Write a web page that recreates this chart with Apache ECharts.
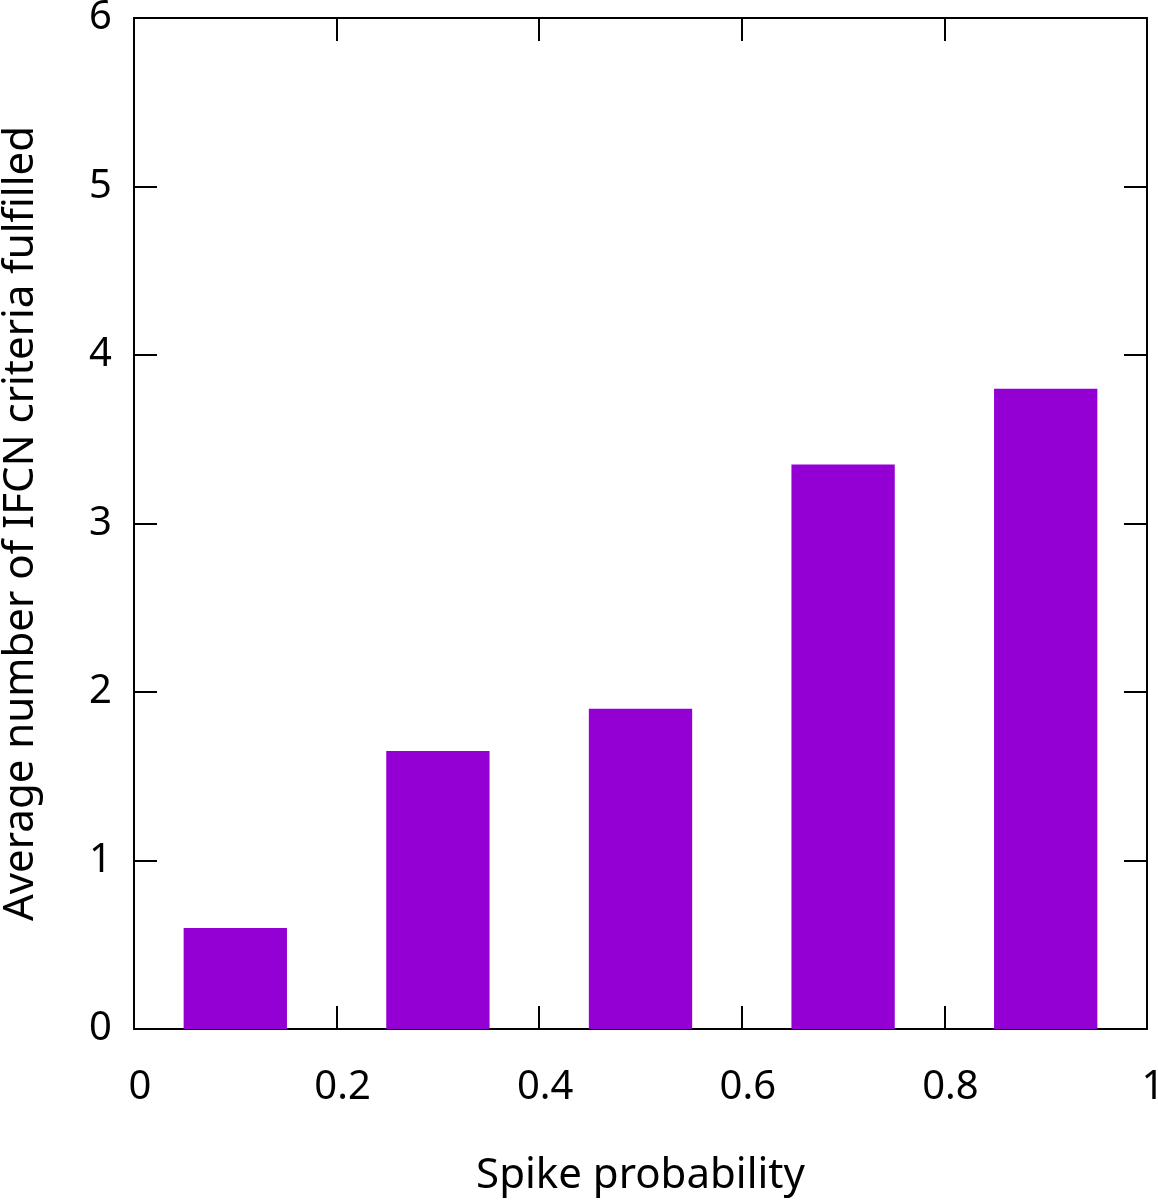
<!DOCTYPE html>
<html>
<head>
    <meta charset="UTF-8">
    <title>Spike probability</title>
    <style>
        html, body { margin: 0; padding: 0; background: #fff; }
        #chart { width: 1158px; height: 1200px; }
    </style>
    <script src="https://cdn.jsdelivr.net/npm/echarts@6/dist/echarts.min.js"></script>
</head>
<body>
<div id="chart"></div>
<script type="text/javascript">
    // 数据
    var spikeProb = [0.1, 0.3, 0.5, 0.7, 0.9];
    var avgCriteria = [0.6, 1.65, 1.9, 3.35, 3.8];

    var barHalf = 0.051;
    var font = '"Noto Sans", "Open Sans", sans-serif';

    var data = [];
    for (var i = 0; i < spikeProb.length; i++) {
        data.push([spikeProb[i], avgCriteria[i]]);
    }

    var chart = echarts.init(document.getElementById('chart'), null, { renderer: 'canvas' });

    var lineStyle = { color: '#000', width: 2 };

    var option = {
        animation: false,
        backgroundColor: '#fff',
        grid: { left: 134, right: 11, top: 18, bottom: 171, containLabel: false, outerBoundsMode: 'none' },
        xAxis: [{
            type: 'value',
            min: 0, max: 1, interval: 0.2,
            name: 'Spike probability',
            nameLocation: 'middle',
            nameGap: 126,
            nameTextStyle: { fontFamily: font, fontSize: 42, color: '#000' },
            axisLine: { show: true, onZero: false, lineStyle: lineStyle },
            axisTick: { show: true, inside: true, length: 23, lineStyle: lineStyle },
            axisLabel: {
                fontFamily: font, fontSize: 40, color: '#000', margin: 39,
                padding: [0, 0, 0, 12],
                formatter: function (v) { return String(Math.round(v * 10) / 10); }
            },
            splitLine: { show: false }
        }, {
            type: 'value',
            position: 'top',
            min: 0, max: 1, interval: 0.2,
            axisLine: { show: true, onZero: false, lineStyle: lineStyle },
            axisTick: { show: true, inside: true, length: 23, lineStyle: lineStyle },
            axisLabel: { show: false },
            splitLine: { show: false }
        }],
        yAxis: [{
            type: 'value',
            min: 0, max: 6, interval: 1,
            name: 'Average number of IFCN criteria fulfilled',
            nameLocation: 'middle',
            nameGap: 92,
            nameTextStyle: { fontFamily: font, fontSize: 42, color: '#000' },
            axisLine: { show: true, onZero: false, lineStyle: lineStyle },
            axisTick: { show: true, inside: true, length: 23, lineStyle: lineStyle },
            axisLabel: { fontFamily: font, fontSize: 40, color: '#000', margin: 22 },
            splitLine: { show: false }
        }, {
            type: 'value',
            position: 'right',
            min: 0, max: 6, interval: 1,
            axisLine: { show: true, onZero: false, lineStyle: lineStyle },
            axisTick: { show: true, inside: true, length: 23, lineStyle: lineStyle },
            axisLabel: { show: false },
            splitLine: { show: false }
        }],
        series: [{
            type: 'custom',
            xAxisIndex: 0,
            yAxisIndex: 0,
            data: data,
            z: 1,
            renderItem: function (params, api) {
                var x = api.value(0);
                var y = api.value(1);
                var p1 = api.coord([x - barHalf, y]);
                var p2 = api.coord([x + barHalf, 0]);
                return {
                    type: 'rect',
                    shape: { x: p1[0], y: p1[1], width: p2[0] - p1[0], height: p2[1] - p1[1] },
                    style: { fill: '#9400D3' }
                };
            }
        }, {
            // 用于显示上方与右侧镜像坐标轴
            type: 'custom',
            xAxisIndex: 1,
            yAxisIndex: 1,
            data: [],
            renderItem: function () { return null; }
        }]
    };

    chart.setOption(option);
</script>
</body>
</html>
